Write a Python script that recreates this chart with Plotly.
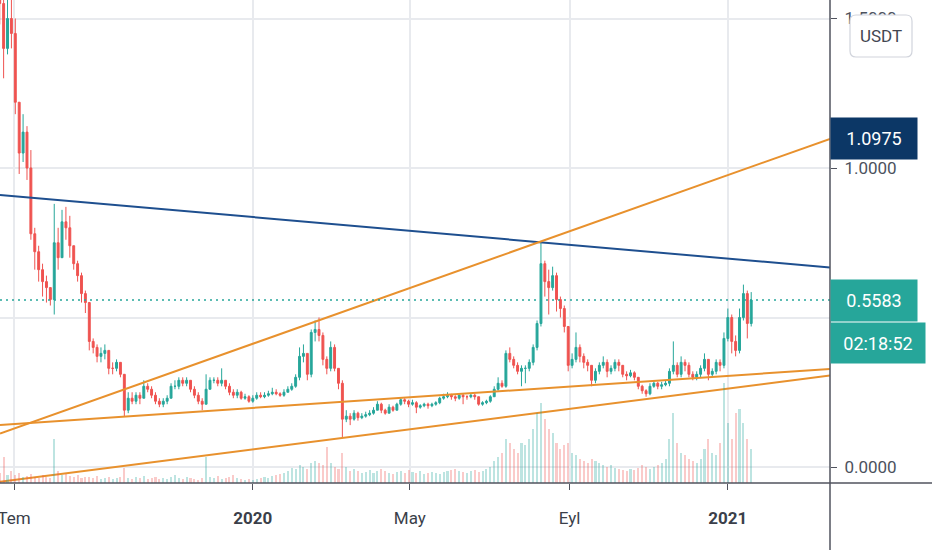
import pandas as pd
import plotly.graph_objects as go

# 3-day candles, starting 2019-06-20
start_date = "2019-06-20"
first_open = 1.62
closes = [
    1.55, 1.40, 1.50, 1.45, 1.22, 1.05, 1.12, 1.00, 0.78, 0.72,
    0.66, 0.62, 0.60, 0.56, 0.75, 0.70, 0.82, 0.80, 0.74, 0.68,
    0.64, 0.58, 0.55, 0.42, 0.40, 0.37, 0.38, 0.39, 0.33, 0.33,
    0.35, 0.31, 0.19, 0.23, 0.22, 0.24, 0.23, 0.27, 0.26, 0.24,
    0.22, 0.21, 0.22, 0.23, 0.27, 0.27, 0.29, 0.28, 0.29, 0.26,
    0.24, 0.22, 0.21, 0.26, 0.29, 0.29, 0.28, 0.29, 0.27, 0.25,
    0.24, 0.25, 0.23, 0.235, 0.22, 0.23, 0.24, 0.235, 0.24, 0.245,
    0.25, 0.245, 0.24, 0.25, 0.26, 0.27, 0.30, 0.37, 0.38, 0.31,
    0.45, 0.46, 0.44, 0.36, 0.33, 0.40, 0.33, 0.28, 0.16, 0.17,
    0.16, 0.18, 0.165, 0.17, 0.175, 0.18, 0.19, 0.21, 0.19, 0.18,
    0.20, 0.19, 0.21, 0.225, 0.22, 0.21, 0.215, 0.20, 0.205, 0.21,
    0.205, 0.21, 0.215, 0.23, 0.235, 0.24, 0.235, 0.23, 0.24, 0.235,
    0.235, 0.24, 0.235, 0.21, 0.215, 0.22, 0.235, 0.26, 0.28, 0.27,
    0.38, 0.36, 0.34, 0.32, 0.33, 0.33, 0.35, 0.40, 0.48, 0.68,
    0.62, 0.60, 0.64, 0.56, 0.53, 0.47, 0.34, 0.36, 0.40, 0.37,
    0.35, 0.34, 0.29, 0.32, 0.34, 0.35, 0.32, 0.33, 0.35, 0.34,
    0.31, 0.305, 0.315, 0.30, 0.27, 0.255, 0.245, 0.27, 0.28, 0.27,
    0.275, 0.28, 0.32, 0.34, 0.31, 0.35, 0.34, 0.31, 0.30, 0.31,
    0.33, 0.36, 0.31, 0.32, 0.35, 0.34, 0.43, 0.50, 0.42, 0.39,
    0.50, 0.58, 0.48, 0.5583,
]
highs = [
    1.68, 1.60, 1.62, 1.58, 1.50, 1.20, 1.18, 1.14, 1.06, 0.80,
    0.74, 0.68, 0.64, 0.60, 0.88, 0.80, 0.86, 0.87, 0.84, 0.74,
    0.69, 0.65, 0.59, 0.55, 0.43, 0.41, 0.40, 0.41, 0.39, 0.35,
    0.36, 0.35, 0.31, 0.25, 0.25, 0.25, 0.25, 0.29, 0.28, 0.27,
    0.25, 0.23, 0.23, 0.24, 0.28, 0.29, 0.30, 0.30, 0.30, 0.29,
    0.27, 0.25, 0.23, 0.31, 0.30, 0.30, 0.30, 0.33, 0.29, 0.28,
    0.26, 0.26, 0.255, 0.245, 0.24, 0.24, 0.25, 0.25, 0.25, 0.255,
    0.265, 0.26, 0.25, 0.26, 0.27, 0.28, 0.31, 0.40, 0.41, 0.38,
    0.46, 0.49, 0.50, 0.45, 0.37, 0.42, 0.41, 0.33, 0.29, 0.19,
    0.18, 0.19, 0.185, 0.18, 0.185, 0.19, 0.20, 0.22, 0.215, 0.195,
    0.21, 0.205, 0.215, 0.23, 0.23, 0.225, 0.225, 0.22, 0.21, 0.215,
    0.215, 0.215, 0.22, 0.235, 0.245, 0.25, 0.245, 0.24, 0.245, 0.245,
    0.24, 0.245, 0.245, 0.235, 0.22, 0.225, 0.24, 0.27, 0.30, 0.29,
    0.39, 0.40, 0.37, 0.35, 0.34, 0.34, 0.36, 0.41, 0.49, 0.75,
    0.69, 0.66, 0.67, 0.65, 0.57, 0.54, 0.47, 0.38, 0.45, 0.41,
    0.38, 0.36, 0.34, 0.33, 0.35, 0.37, 0.36, 0.34, 0.36, 0.36,
    0.34, 0.32, 0.325, 0.32, 0.30, 0.275, 0.26, 0.28, 0.29, 0.285,
    0.285, 0.29, 0.33, 0.42, 0.35, 0.37, 0.36, 0.35, 0.32, 0.32,
    0.34, 0.38, 0.36, 0.33, 0.36, 0.36, 0.45, 0.53, 0.51, 0.44,
    0.53, 0.61, 0.59, 0.585,
]
lows = [
    1.48, 1.30, 1.38, 1.40, 1.18, 0.98, 1.02, 0.96, 0.76, 0.66,
    0.62, 0.57, 0.55, 0.54, 0.51, 0.66, 0.70, 0.76, 0.70, 0.66,
    0.62, 0.55, 0.515, 0.39, 0.38, 0.35, 0.35, 0.36, 0.31, 0.31,
    0.32, 0.30, 0.17, 0.18, 0.21, 0.21, 0.21, 0.23, 0.25, 0.23,
    0.21, 0.20, 0.20, 0.21, 0.23, 0.26, 0.26, 0.27, 0.27, 0.25,
    0.23, 0.21, 0.19, 0.21, 0.26, 0.28, 0.27, 0.27, 0.26, 0.24,
    0.23, 0.23, 0.225, 0.225, 0.215, 0.215, 0.225, 0.23, 0.23, 0.235,
    0.24, 0.24, 0.235, 0.235, 0.25, 0.255, 0.265, 0.29, 0.35, 0.29,
    0.30, 0.42, 0.42, 0.34, 0.31, 0.32, 0.32, 0.26, 0.10, 0.15,
    0.14, 0.155, 0.155, 0.16, 0.165, 0.17, 0.175, 0.19, 0.18, 0.175,
    0.18, 0.185, 0.19, 0.205, 0.21, 0.20, 0.205, 0.18, 0.195, 0.20,
    0.195, 0.20, 0.205, 0.21, 0.225, 0.23, 0.225, 0.22, 0.225, 0.21,
    0.225, 0.23, 0.225, 0.205, 0.205, 0.21, 0.215, 0.235, 0.255, 0.265,
    0.265, 0.35, 0.33, 0.31, 0.27, 0.28, 0.32, 0.34, 0.39, 0.47,
    0.57, 0.51, 0.59, 0.52, 0.50, 0.45, 0.32, 0.33, 0.35, 0.35,
    0.33, 0.32, 0.27, 0.28, 0.31, 0.33, 0.30, 0.31, 0.32, 0.32,
    0.30, 0.29, 0.30, 0.29, 0.26, 0.245, 0.235, 0.24, 0.265, 0.26,
    0.26, 0.27, 0.27, 0.31, 0.30, 0.30, 0.32, 0.30, 0.29, 0.29,
    0.30, 0.32, 0.29, 0.30, 0.31, 0.32, 0.33, 0.42, 0.38, 0.37,
    0.38, 0.49, 0.43, 0.47,
]
volumes = [
    5, 13, 4, 6, 4, 5, 3, 3.5, 4.5, 3,
    2.5, 4, 3, 2.5, 22, 6, 4, 4.5, 3.5, 3,
    4, 2.5, 3, 3, 2.5, 3.5, 2, 2.5, 3, 2,
    2.5, 3, 7.5, 2.5, 2, 3, 2.5, 3.5, 2, 2.5,
    3, 2, 2.5, 2, 3, 4, 2.5, 2, 3, 2.5,
    2, 1.5, 2.5, 13, 3, 2.5, 3.5, 2, 2.5, 3,
    4, 2.5, 2, 1.5, 2, 1.5, 2, 2.5, 3, 2.5,
    3.5, 4, 4.5, 5, 6, 7.5, 7, 9, 8, 7,
    10, 11, 10, 9, 18, 10, 8, 7, 15, 8,
    6, 7, 6, 5, 5.5, 6.5, 5, 6, 7, 6,
    5, 4.5, 5.5, 6, 5, 6.5, 5.5, 5, 6, 4.5,
    5, 5.5, 5, 4.5, 5.5, 6, 6.5, 7, 6, 5.5,
    5, 6, 6.5, 5.5, 6, 7, 8, 11, 13, 15,
    22, 20, 17, 15, 20, 19, 22, 27, 35, 40,
    32, 27, 25, 20, 17, 19, 20, 15, 14, 12,
    11, 10, 12, 11, 10, 9, 8, 9, 7.5, 7,
    6.5, 6, 7, 6.5, 7.5, 9, 8, 7, 8, 9,
    10, 12, 22, 35, 20, 15, 14, 12, 11, 10,
    12, 17, 22, 15, 14, 20, 50, 30, 22, 35,
    37, 30, 22, 17,
]

# drawn trend lines (start/end at the visible time range edges)
trend_dates = ["2019-06-20 05:00", "2021-03-20 17:00"]
blue_line = [0.910, 0.667]
orange_wedge = [0.112, 1.0975]
orange_mid = [0.1405, 0.328]
orange_low = [-0.049, 0.306]

last_price = 0.5583
countdown = "02:18:52"
tick_dates = ["2019-07-01", "2020-01-01", "2020-05-01", "2020-09-01", "2021-01-01"]
tick_text = ["Tem", "<b>2020</b>", "May", "Eyl", "<b>2021</b>"]
price_ticks = [0.0, 0.5, 1.0, 1.5]
price_text = ["0.0000", "", "1.0000", "1.5000"]

UP = "#26a69a"
DOWN = "#ef5350"
ORANGE = "#e8912d"
BLUE = "#1e4f8f"

dates = pd.date_range(start_date, periods=len(closes), freq="3D")
opens = [first_open] + closes[:-1]
highs = [max(h, o, c) for h, o, c in zip(highs, opens, closes)]
lows = [min(l, o, c) for l, o, c in zip(lows, opens, closes)]
vol_colors = ["rgba(38,166,154,0.3)" if c >= o else "rgba(239,83,80,0.3)"
              for o, c in zip(opens, closes)]

fig = go.Figure()

fig.add_trace(go.Bar(x=dates, y=volumes, yaxis="y2", marker_color=vol_colors,
                     marker_line_width=0, width=1.6 * 86400000, showlegend=False))

fig.add_trace(go.Candlestick(
    x=dates, open=opens, high=highs, low=lows, close=closes,
    increasing=dict(line=dict(color=UP, width=1), fillcolor=UP),
    decreasing=dict(line=dict(color=DOWN, width=1), fillcolor=DOWN),
    whiskerwidth=0, showlegend=False))

for vals, col in [(blue_line, BLUE), (orange_wedge, ORANGE),
                  (orange_mid, ORANGE), (orange_low, ORANGE)]:
    fig.add_trace(go.Scatter(x=trend_dates, y=vals, mode="lines",
                             line=dict(color=col, width=2), showlegend=False,
                             hoverinfo="skip"))

# last price dotted line
fig.add_shape(type="line", xref="paper", x0=0, x1=1, yref="y",
              y0=last_price, y1=last_price,
              line=dict(color=UP, width=1.5, dash="2px,4px"))

# axis frame lines (time scale line spans full width, price scale line full height)
fig.add_shape(type="line", xref="paper", yref="paper", x0=0, x1=932 / 830,
              y0=0, y1=0, line=dict(color="#50535e", width=1.5))
fig.add_shape(type="line", xref="paper", yref="paper", x0=1, x1=1,
              y0=-67 / 483, y1=1, line=dict(color="#50535e", width=1.5))

# USDT button with rounded corners
bx0, bx1 = 850 / 830, 912 / 830
by0, by1 = 1 - 57 / 483, 1 - 15 / 483
rx, ry = 6 / 830, 6 / 483
path = (f"M {bx0 + rx},{by1} L {bx1 - rx},{by1} Q {bx1},{by1} {bx1},{by1 - ry} "
        f"L {bx1},{by0 + ry} Q {bx1},{by0} {bx1 - rx},{by0} "
        f"L {bx0 + rx},{by0} Q {bx0},{by0} {bx0},{by0 + ry} "
        f"L {bx0},{by1 - ry} Q {bx0},{by1} {bx0 + rx},{by1} Z")
fig.add_shape(type="path", path=path, xref="paper", yref="paper",
              line=dict(color="#d1d4dc", width=1.2), fillcolor="white")

fig.add_annotation(xref="paper", yref="paper", x=881 / 830, y=1 - 36 / 483,
                   xanchor="center", yanchor="middle",
                   text="USDT", showarrow=False,
                   font=dict(family="Roboto", size=17, color="#434651"))

label_font = dict(family="Roboto", size=18, color="white")
fig.add_annotation(xref="paper", x=1, xanchor="left", yref="y", y=orange_wedge[1],
                   yanchor="middle", text=f"{orange_wedge[1]:.4f}", showarrow=False,
                   bgcolor="#0c3766", width=78, height=33, borderpad=4, font=label_font)
fig.add_annotation(xref="paper", x=1, xanchor="left", yref="y", y=last_price,
                   yanchor="middle", text=f"{last_price:.4f}", showarrow=False,
                   bgcolor=UP, width=78, height=33, borderpad=4, font=label_font)
fig.add_annotation(xref="paper", x=1, xanchor="left", yref="y", y=last_price,
                   yanchor="middle", yshift=-43, text=countdown, showarrow=False,
                   bgcolor=UP, width=86, height=32, borderpad=4, font=label_font)

fig.update_layout(
    width=932, height=550,
    margin=dict(l=0, r=102, t=0, b=67, autoexpand=False),
    paper_bgcolor="white", plot_bgcolor="white",
    font=dict(family="Roboto", size=17, color="#4c525e"),
    xaxis=dict(type="date", range=trend_dates, rangeslider=dict(visible=False),
               tickvals=tick_dates, ticktext=tick_text, showgrid=True,
               gridcolor="#e8eaee", gridwidth=1.5, ticks="outside", ticklen=6,
               tickcolor="#50535e", showline=False, zeroline=False,
               ticklabelstandoff=14, ticklabeloverflow="allow",
               tickfont=dict(size=17, color="#3b3f4a")),
    yaxis=dict(side="right", range=[-16 / 299, 467 / 299], tickvals=price_ticks,
               ticktext=price_text, showgrid=True, gridcolor="#e8eaee",
               gridwidth=1.5, ticks="outside", ticklen=6, tickcolor="#50535e",
               zeroline=False, showline=False, ticklabelstandoff=4,
               tickfont=dict(size=17, color="#4c525e")),
    yaxis2=dict(overlaying="y", range=[0, 241.5], visible=False),
    bargap=0,
)

# drop the page's default body margin so the figure sits at the window corner
fig.write_html("out.html", config={"displayModeBar": False},
               post_script="document.body.style.margin = '0';")
